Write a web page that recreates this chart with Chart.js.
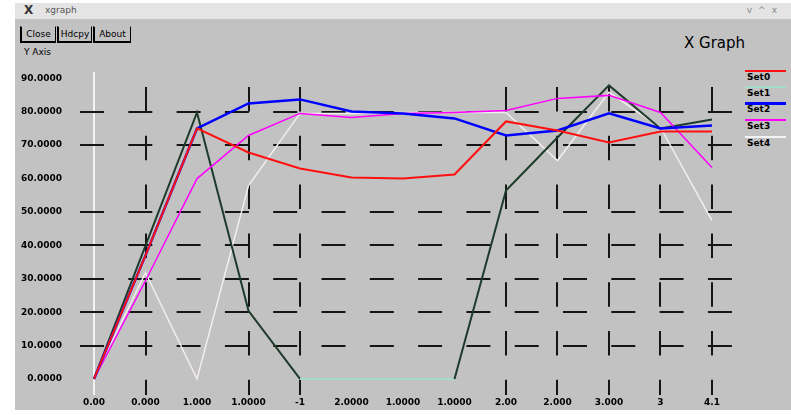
<!DOCTYPE html>
<html><head><meta charset="utf-8">
<script src="https://cdn.jsdelivr.net/npm/chart.js@4.4.0/dist/chart.umd.min.js"></script>
<style>
html,body{margin:0;padding:0;background:#fff;width:791px;height:415px;overflow:hidden;font-family:"DejaVu Sans",sans-serif;}
#win{position:absolute;left:15px;top:3px;width:776px;height:407px;background:#c2c2c2;}
#bar{position:absolute;left:15px;top:3px;width:776px;height:16px;background:#e4e4e4;}
#bar .t{position:absolute;left:30px;top:2px;font-size:9px;color:#555;}
#bar .x{position:absolute;left:9px;top:0px;font-size:12px;color:#333;font-weight:bold;}
#bar .r{position:absolute;right:8px;top:2px;font-size:9px;color:#888;letter-spacing:6px;}
.btn{position:absolute;top:26px;height:14px;font-size:9px;line-height:14px;text-align:center;color:#000;
 border:1px solid #000;border-left-width:2px;border-bottom-width:2px;border-top-color:#c2c2c2;box-sizing:content-box;}
#title{position:absolute;left:684px;top:34px;font-size:15px;color:#000;}
#yname{position:absolute;left:24px;top:47px;font-size:9px;color:#000;}
#legend{position:absolute;left:745px;top:0;}
.li{position:absolute;left:0;width:41px;}
.lt{position:absolute;left:2px;font-size:9px;font-weight:bold;color:#000;}
#c{position:absolute;left:0;top:0;}
</style></head>
<body>
<div id="win"></div>
<div id="bar"><span class="x">X</span><span class="t">xgraph</span><span class="r">v^x</span></div>
<div class="btn" style="left:20px;width:33px">Close</div>
<div class="btn" style="left:57px;width:32px">Hdcpy</div>
<div class="btn" style="left:93px;width:35px">About</div>
<div id="title">X Graph</div>
<div id="yname">Y Axis</div>
<div id="legend"></div>
<canvas id="c" width="791" height="415"></canvas>
<script>
// ---- data ----
const xTickLabels = ["0.00","0.000","1.000","1.0000","-1","2.0000","1.0000","1.0000","2.00","2.000","3.000","3","4.1"];
const yTickLabels = ["0.0000","10.0000","20.0000","30.0000","40.0000","50.0000","60.0000","70.0000","80.0000","90.0000"];
const seriesNames = ["Set0","Set1","Set2","Set3","Set4"];
const set0 = [0, 3.7, 7.5, 6.78, 6.3, 6.03, 6.0, 6.12, 7.71, 7.44, 7.08, 7.41, 7.41];
const set1 = [0, 3.99, 7.98, 2.04, 0, 0, 0, 0, 5.64, 7.23, 8.79, 7.5, 7.77];
const set2 = [0, 3.7, 7.5, 8.25, 8.37, 8.01, 7.95, 7.8, 7.29, 7.44, 7.95, 7.5, 7.59];
const set3 = [0, 2.94, 6.0, 7.29, 7.95, 7.83, 7.95, 7.98, 8.04, 8.4, 8.49, 7.98, 6.33];
const set4 = [0, 3.18, 0, 5.79, 7.95, 7.95, 7.98, 7.98, 7.98, 6.54, 8.58, 7.53, 4.74];

// ---- style ----
const visibleRows = [1,2,3,4,5,7,8];
const visibleCols = [1,3,4,8,9,10,11,12];
const colors = ["#ff1010","#1d3a2b","#0000ff","#ff00ff","#f4eeee"];
const legendColors = ["#ff1010","#a6dcc6","#0000ff","#ff00ff","#f4f4f4"];
const widths = [2,2,2.5,1.5,1.5];
const drawOrder = [0,3,1,2,4];

const seriesList = [set0,set1,set2,set3,set4];
const toPts = arr => arr.map((v,i)=>({x:i,y:v}));

const datasets = seriesList.map((s,k)=>{
  const d = {label:seriesNames[k], data:toPts(s), borderColor:colors[k], borderWidth:widths[k],
    pointRadius:0, tension:0, fill:false, order:drawOrder[k]};
  if(k===1){
    d.segment = {borderColor: ctx => (ctx.p0.parsed.y===0 && ctx.p1.parsed.y===0) ? "#a6dcc6" : colors[1]};
  }
  return d;
});

// legend (HTML)
const lg = document.getElementById('legend');
const legTops = [70,86,102,119,136];
seriesNames.forEach((n,k)=>{
  const l = document.createElement('div'); l.className='li';
  l.style.top = legTops[k]+'px'; l.style.height = (k===2?3:2)+'px'; l.style.background = legendColors[k];
  lg.appendChild(l);
  const t = document.createElement('div'); t.className='lt'; t.textContent = n;
  t.style.top = (legTops[k]+2)+'px';
  lg.appendChild(t);
});

const tickFont = {family:'DejaVu Sans', size:9, weight:'bold'};
const XMIN=-0.272, XMAX=12.447, YMIN=-0.48, YMAX=9.19;
new Chart(document.getElementById('c'), {
  type:'line',
  data:{datasets},
  options:{
    responsive:false, animation:false, devicePixelRatio:1,
    layout:{padding:{left:0,top:72,right:56,bottom:0}},
    plugins:{legend:{display:false}, tooltip:{enabled:false}},
    scales:{
      x:{type:'linear', position:'bottom', min:XMIN, max:XMAX,
        afterBuildTicks: s => { s.ticks = xTickLabels.map((_,i)=>({value:i})); },
        ticks:{callback: v => xTickLabels[Math.round(v)], padding:2, color:'#000', maxRotation:0, autoSkip:false,
          font:tickFont},
        grid:{color: ctx => visibleCols.includes(ctx.tick ? ctx.tick.value : -1) ? '#151515' : 'rgba(0,0,0,0)',
          lineWidth:2, drawTicks:false},
        border:{display:false, dash:[24.5,24.3], dashOffset:33.8},
        afterFit: s => { s.height = 20; s.paddingLeft=0; s.paddingRight=0; }
      },
      xw:{type:'linear', position:'top', min:XMIN, max:XMAX,
        afterBuildTicks: s => { s.ticks = [{value:0}]; },
        ticks:{display:false},
        grid:{color:'#f2f2f2', lineWidth:2, drawTicks:false},
        border:{display:false},
        afterFit: s => { s.height = 0; s.paddingLeft=0; s.paddingRight=0; }
      },
      y:{type:'linear', min:YMIN, max:YMAX,
        afterBuildTicks: s => { s.ticks = yTickLabels.map((_,i)=>({value:i})); },
        ticks:{callback: v => yTickLabels[Math.round(v)], padding:18, color:'#000', font:tickFont},
        grid:{color: ctx => visibleRows.includes(ctx.tick ? ctx.tick.value : -1) ? '#151515' : 'rgba(0,0,0,0)',
          lineWidth:2, drawTicks:false},
        border:{display:false, dash:[24,24.3], dashOffset:0},
        afterFit: s => { s.width = 80; s.paddingTop=0; s.paddingBottom=0; }
      }
    }
  }
});
</script>
</body></html>
